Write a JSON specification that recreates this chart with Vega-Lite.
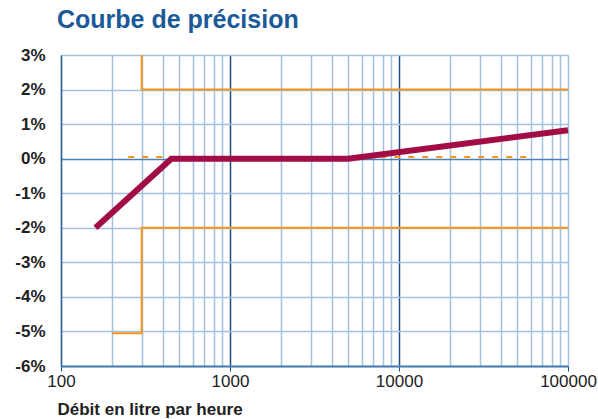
{
  "$schema": "https://vega.github.io/schema/vega-lite/v6.json",
  "width": 507,
  "height": 311,
  "autosize": "none",
  "padding": {"left": 61, "top": 55, "right": 30, "bottom": 53},
  "background": "white",
  "title": {
    "text": "Courbe de précision",
    "anchor": "start",
    "frame": "group",
    "color": "#1b5a98",
    "font": "Liberation Sans",
    "fontSize": 25,
    "fontWeight": "bold",
    "offset": 13,
    "dx": -4
  },
  "config": {
    "view": {"stroke": null},
    "axis": {"labelFont": "Liberation Sans", "titleFont": "Liberation Sans"}
  },
  "datasets": {
    "lines": [
      {"g": "curve", "o": 1, "debit": 160, "ecart": -2},
      {"g": "curve", "o": 2, "debit": 450, "ecart": 0},
      {"g": "curve", "o": 3, "debit": 5000, "ecart": 0},
      {"g": "curve", "o": 4, "debit": 100000, "ecart": 0.82},
      {"g": "upper", "o": 1, "debit": 300, "ecart": 3},
      {"g": "upper", "o": 2, "debit": 300, "ecart": 2},
      {"g": "upper", "o": 3, "debit": 100000, "ecart": 2},
      {"g": "lower", "o": 1, "debit": 200, "ecart": -5.05},
      {"g": "lower", "o": 2, "debit": 300, "ecart": -5.05},
      {"g": "lower", "o": 3, "debit": 300, "ecart": -2},
      {"g": "lower", "o": 4, "debit": 100000, "ecart": -2},
      {"g": "dash", "o": 1, "debit": 250, "ecart": 0.05},
      {"g": "dash", "o": 2, "debit": 60000, "ecart": 0.05}
    ]
  },
  "data": {"name": "lines"},
  "encoding": {
    "x": {
      "field": "debit",
      "type": "quantitative",
      "scale": {"type": "log", "domain": [100, 100000], "nice": false},
      "axis": {
        "values": [100,200,300,400,500,600,700,800,900,1000,2000,3000,4000,5000,6000,7000,8000,9000,10000,20000,30000,40000,50000,60000,70000,80000,90000,100000],
        "labelExpr": "indexof([100,1000,10000,100000], datum.value) >= 0 ? datum.value : ''",
        "labelFontSize": 17,
        "labelColor": "#222222",
        "labelPadding": 2,
        "labelFlush": false,
        "labelOverlap": false,
        "grid": true,
        "gridColor": {"condition": {"test": "indexof([1000,10000], datum.value) >= 0", "value": "#1f4f80"}, "value": "#a2c0e0"},
        "gridWidth": 1.5,
        "ticks": true,
        "tickColor": {"condition": {"test": "indexof([100,1000,10000,100000], datum.value) >= 0", "value": "#1f4f80"}, "value": "transparent"},
        "tickSize": 5,
        "domainColor": "#4b7fb2",
        "domainWidth": 2,
        "title": "Débit en litre par heure",
        "titleFontSize": 17,
        "titleFontWeight": "bold",
        "titleColor": "#222222",
        "titleAnchor": "start",
        "titleAlign": "left",
        "titleBaseline": "alphabetic",
        "titleX": -4,
        "titleY": 48
      }
    },
    "y": {
      "field": "ecart",
      "type": "quantitative",
      "scale": {"domain": [-6, 3], "nice": false, "zero": false},
      "axis": {
        "values": [-6,-5,-4,-3,-2,-1,0,1,2,3],
        "labelExpr": "datum.value + '%'",
        "labelFontSize": 17,
        "labelFontWeight": "bold",
        "labelColor": "#222222",
        "labelPadding": 16,
        "ticks": false,
        "grid": true,
        "gridColor": {"condition": {"test": "datum.value == 0", "value": "#4b7fb2"}, "value": "#a2c0e0"},
        "gridWidth": 1.5,
        "domainColor": "#2e5f92",
        "domainWidth": 1.5,
        "title": null
      }
    },
    "detail": {"field": "g"},
    "order": {"field": "o", "type": "quantitative"}
  },
  "layer": [
    {
      "transform": [{"filter": "datum.g == 'upper' || datum.g == 'lower'"}],
      "mark": {"type": "line", "color": "#f7941d", "strokeWidth": 2, "interpolate": "linear"}
    },
    {
      "transform": [{"filter": "datum.g == 'dash'"}],
      "mark": {"type": "line", "color": "#f7941d", "strokeWidth": 2, "strokeDash": [6, 8]}
    },
    {
      "transform": [{"filter": "datum.g == 'curve'"}],
      "mark": {"type": "line", "color": "#a30d45", "strokeWidth": 6, "strokeCap": "butt"}
    }
  ]
}
